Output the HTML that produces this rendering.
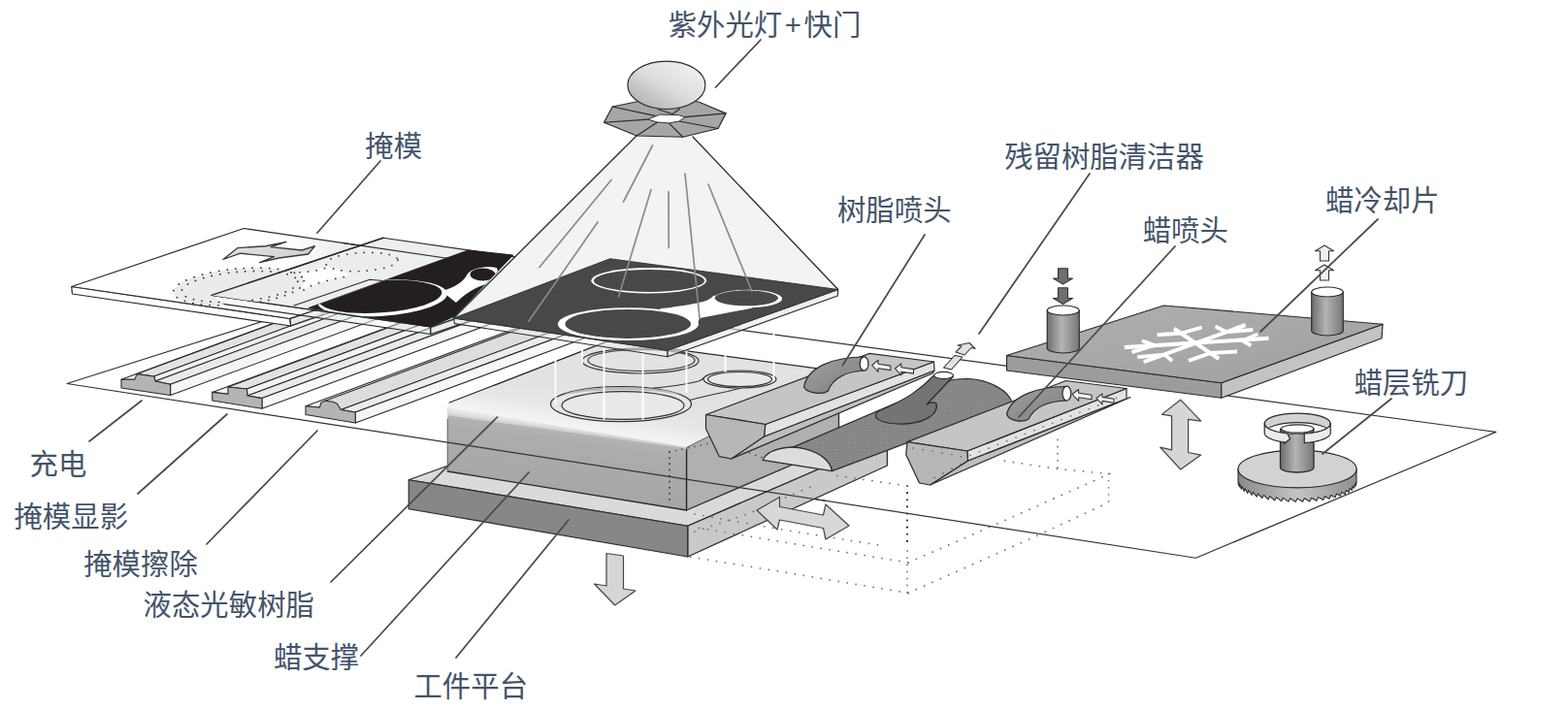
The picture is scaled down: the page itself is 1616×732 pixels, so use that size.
<!DOCTYPE html>
<html lang="zh-CN">
<head>
<meta charset="utf-8">
<title>光固化成型工艺示意图</title>
<style>
html,body{margin:0;padding:0;background:#fff;}
body{width:1616px;height:732px;overflow:hidden;position:relative;font-family:"Liberation Sans","Noto Sans CJK SC",sans-serif;}
svg{position:absolute;left:0;top:0;display:block;}
text{font-family:"Liberation Sans","Noto Sans CJK SC",sans-serif;font-size:29.4px;fill:#44546a;font-weight:400;}
</style>
</head>
<body>
<svg width="1616" height="732" viewBox="0 0 1616 732">
<defs>

<linearGradient id="gBulb" x1="0.85" y1="0.1" x2="0.1" y2="0.9">
  <stop offset="0" stop-color="#f0f0f0"/><stop offset="0.5" stop-color="#dcdcdc"/><stop offset="1" stop-color="#b0b0b2"/>
</linearGradient>
<linearGradient id="gCyl" x1="0" y1="0" x2="1" y2="0">
  <stop offset="0" stop-color="#6e6e70"/><stop offset="0.45" stop-color="#b4b4b6"/><stop offset="1" stop-color="#77777a"/>
</linearGradient>
<linearGradient id="gBlockFront" gradientUnits="userSpaceOnUse" x1="461" y1="428" x2="453" y2="486">
  <stop offset="0" stop-color="#b4b4b7"/><stop offset="0.15" stop-color="#adadb0"/><stop offset="1" stop-color="#a7a7aa"/>
</linearGradient>
<linearGradient id="gBlockEdge" gradientUnits="userSpaceOnUse" x1="461" y1="418" x2="459.5" y2="429">
  <stop offset="0" stop-color="#f0f0f0"/><stop offset="0.6" stop-color="#e2e2e2"/><stop offset="1" stop-color="#c6c6c8"/>
</linearGradient>
<linearGradient id="gBlockTop" gradientUnits="userSpaceOnUse" x1="461" y1="417" x2="467.5" y2="378">
  <stop offset="0" stop-color="#f3f3f3"/><stop offset="0.5" stop-color="#e6e6e6"/><stop offset="1" stop-color="#e2e2e2"/>
</linearGradient>
<linearGradient id="gPlateA" x1="0" y1="0" x2="1" y2="0">
  <stop offset="0" stop-color="#ffffff"/><stop offset="0.56" stop-color="#ffffff"/><stop offset="0.68" stop-color="#eeeeee"/><stop offset="1" stop-color="#ececec"/>
</linearGradient>
<linearGradient id="gArrow" x1="0" y1="0" x2="1" y2="0">
  <stop offset="0" stop-color="#e4e4e4"/><stop offset="1" stop-color="#cfcfcf"/>
</linearGradient>
<linearGradient id="gTube" x1="0" y1="0" x2="1" y2="1">
  <stop offset="0" stop-color="#a2a2a4"/><stop offset="1" stop-color="#7c7c7e"/>
</linearGradient>
<linearGradient id="gCoolTop" x1="0" y1="0" x2="1" y2="1">
  <stop offset="0" stop-color="#b0b0b3"/><stop offset="1" stop-color="#a0a0a3"/>
</linearGradient>
<linearGradient id="gGearSide" x1="0" y1="0" x2="1" y2="0">
  <stop offset="0" stop-color="#8a8a8c"/><stop offset="0.5" stop-color="#c4c4c6"/><stop offset="1" stop-color="#8f8f91"/>
</linearGradient>
<pattern id="pTex" width="3" height="3" patternUnits="userSpaceOnUse">
  <rect width="3" height="3" fill="#8a8a8c"/><rect width="1.5" height="1.5" fill="#7f7f81"/>
</pattern>

</defs>
<polygon points="69.00,395.50 398.00,291.00 1541.80,445.40 1232.50,575.25" fill="none" stroke="#333" stroke-width="1.20" stroke-linejoin="round" />
<polygon points="125.00,391.25 455.00,269.15 468.75,269.15 138.75,391.25" fill="#f4f4f4" stroke="#2a2a2a" stroke-width="1.08" stroke-linejoin="round" />
<polygon points="141.25,385.60 471.25,263.50 488.75,265.90 158.75,388.00" fill="#e2e2e2" stroke="#2a2a2a" stroke-width="1.08" stroke-linejoin="round" />
<polygon points="158.75,388.00 488.75,265.90 490.00,270.90 160.00,393.00" fill="#f2f2f2" stroke="#2a2a2a" stroke-width="1.08" stroke-linejoin="round" />
<polygon points="160.00,393.00 490.00,270.90 505.60,274.15 175.60,396.25" fill="#e9e9e9" stroke="#2a2a2a" stroke-width="1.08" stroke-linejoin="round" />
<polygon points="175.60,396.25 505.60,274.15 505.60,285.40 175.60,407.50" fill="#f6f6f6" stroke="#2a2a2a" stroke-width="1.08" stroke-linejoin="round" />
<polygon points="125.00,391.25 138.75,391.25 141.25,385.60 158.75,388.00 160.00,393.00 175.60,396.25 175.60,407.50 125.00,400.00" fill="#b4b4b6" stroke="#2a2a2a" stroke-width="1.08" stroke-linejoin="round" />
<polygon points="218.75,404.40 548.75,282.30 565.00,284.15 235.00,406.25" fill="#f4f4f4" stroke="#2a2a2a" stroke-width="1.08" stroke-linejoin="round" />
<polygon points="235.00,399.00 565.00,276.90 584.40,278.90 254.40,401.00" fill="#e2e2e2" stroke="#2a2a2a" stroke-width="1.08" stroke-linejoin="round" />
<polygon points="254.40,401.00 584.40,278.90 585.00,285.90 255.00,408.00" fill="#f2f2f2" stroke="#2a2a2a" stroke-width="1.08" stroke-linejoin="round" />
<polygon points="255.00,408.00 585.00,285.90 600.00,288.50 270.00,410.60" fill="#e9e9e9" stroke="#2a2a2a" stroke-width="1.08" stroke-linejoin="round" />
<polygon points="270.00,410.60 600.00,288.50 600.00,299.15 270.00,421.25" fill="#f6f6f6" stroke="#2a2a2a" stroke-width="1.08" stroke-linejoin="round" />
<polygon points="218.75,404.40 235.00,406.25 235.00,399.00 254.40,401.00 255.00,408.00 270.00,410.60 270.00,421.25 218.75,413.00" fill="#b4b4b6" stroke="#2a2a2a" stroke-width="1.08" stroke-linejoin="round" />
<polygon points="315.00,418.75 615.00,307.75 629.40,309.00 329.40,420.00" fill="#f4f4f4" stroke="#2a2a2a" stroke-width="1.08" stroke-linejoin="round" />
<polygon points="335.00,413.20 635.00,302.20 651.25,311.50 351.25,422.50" fill="#dddddd" stroke="#2a2a2a" stroke-width="1.08" stroke-linejoin="round" />
<polygon points="351.25,422.50 651.25,311.50 666.25,314.00 366.25,425.00" fill="#ececec" stroke="#2a2a2a" stroke-width="1.08" stroke-linejoin="round" />
<polygon points="366.25,425.00 666.25,314.00 666.25,325.00 366.25,436.00" fill="#f6f6f6" stroke="#2a2a2a" stroke-width="1.08" stroke-linejoin="round" />
<polygon points="315.00,418.75 329.40,420.00 331.00,415.00 335.00,413.20 343.00,414.20 347.50,416.25 351.25,422.50 366.25,425.00 366.25,436.00 315.00,427.50" fill="#b4b4b6" stroke="#2a2a2a" stroke-width="1.08" stroke-linejoin="round" />
<polygon points="421.25,494.75 600.00,430.00 914.40,453.00 708.75,542.25" fill="#dadada" stroke="#2a2a2a" stroke-width="1.20" stroke-linejoin="round" />
<polygon points="708.75,542.25 914.40,453.00 914.40,480.00 708.75,574.00" fill="#c9c9c9" stroke="#2a2a2a" stroke-width="1.20" stroke-linejoin="round" />
<polygon points="421.25,494.75 708.75,542.25 708.75,574.00 421.25,524.75" fill="#87878a" stroke="#2a2a2a" stroke-width="1.20" stroke-linejoin="round" />
<polygon points="707.50,461.00 864.50,382.80 864.50,458.50 707.50,526.00" fill="#b0b0b3" stroke="#2a2a2a" stroke-width="1.32" stroke-linejoin="round" />
<path d="M 461.25,420 L 707.5,461 L 707.5,526 L 461.25,486 Z" fill="url(#gBlockFront)" stroke="none" stroke-width="1.32" stroke-linejoin="round" stroke-linecap="round" />
<polygon points="461.25,419.00 707.50,461.00 707.50,462.50 461.25,428.50" fill="url(#gBlockEdge)" stroke="none" stroke-width="1.32" stroke-linejoin="round" />
<line x1="461.25" y1="486.00" x2="707.50" y2="526.00" stroke="#2a2a2a" stroke-width="1.32" stroke-linecap="round" />
<line x1="707.50" y1="464.00" x2="707.50" y2="526.00" stroke="#2a2a2a" stroke-width="1.32" stroke-linecap="round" />
<line x1="461.25" y1="432.00" x2="461.25" y2="486.00" stroke="#666" stroke-width="1.08" stroke-linecap="round" />
<path d="M 464.25,414.5 L 628,351.2 L 864.5,382.8 L 707.5,461 L 461.25,420.5 L 461.25,417 Q 461.25,415 464.25,414.5 Z" fill="url(#gBlockTop)" stroke="none" stroke-width="1.32" stroke-linejoin="round" stroke-linecap="round" />
<line x1="463.25" y1="415.00" x2="628.00" y2="351.20" stroke="#2a2a2a" stroke-width="1.32" stroke-linecap="round" />
<line x1="628.00" y1="351.20" x2="864.50" y2="382.80" stroke="#2a2a2a" stroke-width="1.32" stroke-linecap="round" />
<line x1="461.50" y1="456.14" x2="852.00" y2="516.47" stroke="#333" stroke-width="1.20" stroke-linecap="round" />
<ellipse cx="660.00" cy="372.00" rx="60.00" ry="13.00" fill="none" stroke="#333" stroke-width="1.20" />
<ellipse cx="661.00" cy="371.50" rx="55.00" ry="11.00" fill="none" stroke="#333" stroke-width="1.20" />
<path d="M 672,400.3 C 690,398.5 708,396 720,393 C 723,392 724,391 725.5,389.5" fill="none" stroke="#333" stroke-width="1.20" stroke-linejoin="round" stroke-linecap="round" />
<path d="M 711,412.5 C 722,409.5 738,406 750,403.5 C 756,402 760,401 764,400" fill="none" stroke="#333" stroke-width="1.20" stroke-linejoin="round" stroke-linecap="round" />
<ellipse cx="640.00" cy="416.60" rx="72.50" ry="18.00" fill="#e6e6e6" stroke="#333" stroke-width="1.20" />
<path d="M 578,409 C 590,396 690,396 704,409 C 690,400 592,400 578,409 Z" fill="#b9b9bb" stroke="none" stroke-width="1.32" stroke-linejoin="round" stroke-linecap="round" />
<ellipse cx="642.00" cy="418.00" rx="63.00" ry="14.40" fill="#e9e9e9" stroke="#333" stroke-width="1.20" />
<ellipse cx="762.50" cy="391.00" rx="37.50" ry="9.00" fill="#e6e6e6" stroke="#333" stroke-width="1.20" />
<ellipse cx="762.50" cy="391.00" rx="33.00" ry="7.50" fill="#e9e9e9" stroke="#333" stroke-width="1.20" />
<line x1="572.50" y1="362.00" x2="572.50" y2="416.00" stroke="#ffffff" stroke-width="1.80" stroke-linecap="round" />
<line x1="600.00" y1="360.00" x2="600.00" y2="374.00" stroke="#ffffff" stroke-width="1.80" stroke-linecap="round" />
<line x1="622.50" y1="360.00" x2="622.50" y2="432.00" stroke="#ffffff" stroke-width="1.80" stroke-linecap="round" />
<line x1="662.50" y1="362.00" x2="662.50" y2="432.00" stroke="#ffffff" stroke-width="1.80" stroke-linecap="round" />
<line x1="707.50" y1="360.00" x2="707.50" y2="404.00" stroke="#ffffff" stroke-width="1.80" stroke-linecap="round" />
<line x1="747.50" y1="352.00" x2="747.50" y2="383.00" stroke="#ffffff" stroke-width="1.80" stroke-linecap="round" />
<line x1="797.50" y1="340.00" x2="797.50" y2="392.00" stroke="#ffffff" stroke-width="1.80" stroke-linecap="round" />
<polyline points="690.00,466.00 690.00,520.00" fill="none" stroke="#333" stroke-width="1.80" stroke-linecap="round" stroke-dasharray="0.1 6" />
<polyline points="690.00,466.00 740.00,455.00 800.00,477.00" fill="none" stroke="#555" stroke-width="1.68" stroke-linecap="round" stroke-dasharray="0.1 6.5" />
<polygon points="73.75,295.50 298.75,328.50 299.75,336.00 74.45,303.00" fill="#ffffff" stroke="#2a2a2a" stroke-width="1.20" stroke-linejoin="round" />
<polygon points="298.75,328.50 476.00,268.50 476.00,276.00 299.75,336.00" fill="#ececec" stroke="#2a2a2a" stroke-width="1.20" stroke-linejoin="round" fill-opacity="0.5"/>
<polygon points="73.75,295.50 251.25,235.50 476.00,268.50 298.75,328.50" fill="url(#gPlateA)" stroke="#2a2a2a" stroke-width="1.20" stroke-linejoin="round" />
<polygon points="218.00,304.40 443.75,337.00 443.75,344.50 219.40,311.90" fill="#f4f4f4" stroke="#2a2a2a" stroke-width="1.20" stroke-linejoin="round" fill-opacity="0.5"/>
<polygon points="443.75,337.00 620.75,277.85 620.75,285.35 443.75,344.50" fill="#ececec" stroke="#2a2a2a" stroke-width="1.20" stroke-linejoin="round" fill-opacity="0.5"/>
<polygon points="218.00,304.40 395.00,245.25 620.75,277.85 443.75,337.00" fill="#eeeeee" stroke="#2a2a2a" stroke-width="1.20" stroke-linejoin="round" />
<line x1="298.75" y1="328.50" x2="476.00" y2="268.50" stroke="#2a2a2a" stroke-width="1.20" stroke-linecap="round" />
<line x1="352.39" y1="250.35" x2="476.00" y2="268.50" stroke="#2a2a2a" stroke-width="1.20" stroke-linecap="round" />
<clipPath id="cA"><polygon points="73.75,295.50 251.25,235.50 395.00,245.25 620.75,277.85 443.75,337.00 218.00,304.40 238.75,319.50 298.75,328.50"/></clipPath>
<g clip-path="url(#cA)">
<path d="M 292,283 C 310,282 330,278 342,272 L 360,284 C 340,288 322,292 312,300 Z" fill="#ffffff" stroke="none" stroke-width="1.32" stroke-linejoin="round" stroke-linecap="round" />
<ellipse cx="246.00" cy="295.50" rx="67.50" ry="18.50" fill="#ebebeb" stroke="#333" stroke-width="1.80" transform="rotate(-5 246.00 295.50)" stroke-dasharray="0.1 8.6" stroke-linecap="round"/>
<ellipse cx="247.00" cy="295.50" rx="60.00" ry="15.20" fill="none" stroke="#333" stroke-width="1.80" transform="rotate(-5 247.00 295.50)" stroke-dasharray="0.1 8.6" stroke-linecap="round"/>
<ellipse cx="373.00" cy="270.00" rx="37.00" ry="9.50" fill="#ececec" stroke="#3a3a3a" stroke-width="1.80" transform="rotate(-3 373.00 270.00)" stroke-dasharray="0.1 8.6" stroke-linecap="round"/>
<path d="M 300,281 C 318,281 332,279 340,274" fill="none" stroke="#3a3a3a" stroke-width="1.80" stroke-linejoin="round" stroke-linecap="round" stroke-dasharray="0.1 8.6" stroke-linecap="round"/>
<path d="M 313,299 C 322,292 342,288 358,285" fill="none" stroke="#3a3a3a" stroke-width="1.80" stroke-linejoin="round" stroke-linecap="round" stroke-dasharray="0.1 8.6" stroke-linecap="round"/>
</g>
<line x1="218.00" y1="304.40" x2="395.00" y2="245.25" stroke="#2a2a2a" stroke-width="1.44" stroke-linecap="round" />
<polyline points="303.00,315.00 381.00,288.30 395.00,289.50" fill="none" stroke="#2a2a2a" stroke-width="1.08" stroke-linejoin="round" stroke-linecap="round" />
<polygon points="318.00,317.50 482.50,258.00 528.75,263.00 468.75,326.00 443.75,337.00" fill="#231f20" stroke="#231f20" stroke-width="0.96" stroke-linejoin="round" />
<clipPath id="cK"><polygon points="318.00,317.50 482.50,258.00 528.75,263.00 468.75,326.00 443.75,337.00"/></clipPath>
<g clip-path="url(#cK)">
<ellipse cx="394.00" cy="307.30" rx="67.00" ry="18.50" fill="#ffffff" stroke="none" stroke-width="1.32" transform="rotate(-4 394.00 307.30)" />
<path d="M 455,300 C 470,296 478,290 482,282 C 488,276 500,274 512,276 L 516,290 C 500,292 486,296 470,312 Z" fill="#ffffff" stroke="none" stroke-width="1.32" stroke-linejoin="round" stroke-linecap="round" />
<ellipse cx="392.00" cy="305.80" rx="63.50" ry="16.60" fill="#231f20" stroke="none" stroke-width="1.32" transform="rotate(-4 392.00 305.80)" />
<ellipse cx="497.50" cy="283.00" rx="13.00" ry="6.50" fill="#231f20" stroke="none" stroke-width="1.32" />
</g>
<path d="M 230,267.5 L 245,255.6 L 273.75,253.75 L 295,249.4 L 279,254.6 L 311,258 L 324.4,253.75 L 317.5,262 L 287.5,266 L 267.5,270.6 L 282.5,264.6 L 247.5,261.2 Z" fill="url(#gArrow)" stroke="#3a3a3a" stroke-width="1.32" stroke-linejoin="round" stroke-linecap="round" />
<polygon points="656.00,140.00 714.00,141.00 863.75,298.50 628.75,266.75 467.50,328.00" fill="#f3f3f3" stroke="none" stroke-width="1.32" stroke-linejoin="round" />
<line x1="656.00" y1="140.00" x2="467.50" y2="328.00" stroke="#2a2a2a" stroke-width="1.32" stroke-linecap="round" />
<line x1="714.00" y1="141.00" x2="863.75" y2="298.50" stroke="#2a2a2a" stroke-width="1.32" stroke-linecap="round" />
<polygon points="467.50,328.00 688.00,361.20 688.00,367.80 468.50,333.60" fill="#f6f6f6" stroke="#2a2a2a" stroke-width="1.08" stroke-linejoin="round" fill-opacity="0.45"/>
<polygon points="688.00,361.20 863.75,298.50 863.25,305.10 688.00,367.80" fill="#e6e6e6" stroke="#2a2a2a" stroke-width="1.08" stroke-linejoin="round" fill-opacity="0.6"/>
<polygon points="467.50,328.00 628.75,266.75 863.75,298.50 688.00,361.20" fill="#48484a" stroke="#333" stroke-width="0.96" stroke-linejoin="round" />
<ellipse cx="668.75" cy="289.25" rx="59.40" ry="13.25" fill="#ffffff" stroke="none" stroke-width="1.32" />
<ellipse cx="669.00" cy="289.40" rx="57.00" ry="11.50" fill="#48484a" stroke="none" stroke-width="1.32" />
<ellipse cx="647.40" cy="334.10" rx="72.60" ry="16.90" fill="#ffffff" stroke="none" stroke-width="1.32" />
<path d="M 680,318.3 C 700,316 722,312.5 729,309.5 C 732,308 734,306.5 735.5,304.5 L 750,311 L 776,317.5 L 721,328 L 718,336 L 690,336 Z" fill="#ffffff" stroke="none" stroke-width="1.32" stroke-linejoin="round" stroke-linecap="round" />
<ellipse cx="647.20" cy="333.90" rx="64.80" ry="15.00" fill="#48484a" stroke="none" stroke-width="1.32" />
<ellipse cx="770.60" cy="308.00" rx="35.60" ry="9.30" fill="#ffffff" stroke="none" stroke-width="1.32" />
<ellipse cx="769.30" cy="307.30" rx="32.60" ry="8.00" fill="#48484a" stroke="none" stroke-width="1.32" />
<line x1="630.00" y1="185.50" x2="556.00" y2="275.50" stroke="#8a8a8a" stroke-width="1.68" stroke-linecap="round" />
<line x1="672.50" y1="150.00" x2="642.50" y2="208.00" stroke="#8a8a8a" stroke-width="1.68" stroke-linecap="round" />
<line x1="616.00" y1="229.00" x2="545.00" y2="331.00" stroke="#8a8a8a" stroke-width="1.68" stroke-linecap="round" />
<line x1="671.00" y1="195.50" x2="637.50" y2="306.00" stroke="#8a8a8a" stroke-width="1.68" stroke-linecap="round" />
<line x1="689.00" y1="197.50" x2="689.25" y2="255.50" stroke="#8a8a8a" stroke-width="1.68" stroke-linecap="round" />
<line x1="706.00" y1="179.00" x2="721.00" y2="328.00" stroke="#8a8a8a" stroke-width="1.68" stroke-linecap="round" />
<line x1="730.00" y1="190.00" x2="775.00" y2="300.50" stroke="#8a8a8a" stroke-width="1.68" stroke-linecap="round" />
<polygon points="631.25,110.00 622.50,126.25 656.25,140.00 703.75,141.25 740.00,132.50 748.12,116.88 720.00,105.00 680.00,100.00" fill="#a6a6a8" stroke="#2a2a2a" stroke-width="1.20" stroke-linejoin="round" />
<line x1="631.25" y1="110.00" x2="675.00" y2="119.38" stroke="#2a2a2a" stroke-width="1.20" stroke-linecap="round" />
<line x1="622.50" y1="126.25" x2="667.50" y2="123.12" stroke="#2a2a2a" stroke-width="1.20" stroke-linecap="round" />
<line x1="656.25" y1="140.00" x2="677.50" y2="126.00" stroke="#2a2a2a" stroke-width="1.20" stroke-linecap="round" />
<line x1="703.75" y1="141.25" x2="689.38" y2="126.88" stroke="#2a2a2a" stroke-width="1.20" stroke-linecap="round" />
<line x1="740.00" y1="132.50" x2="700.00" y2="125.00" stroke="#2a2a2a" stroke-width="1.20" stroke-linecap="round" />
<line x1="748.12" y1="116.88" x2="706.25" y2="120.62" stroke="#2a2a2a" stroke-width="1.20" stroke-linecap="round" />
<line x1="678.12" y1="112.75" x2="693.12" y2="117.50" stroke="#2a2a2a" stroke-width="1.20" stroke-linecap="round" />
<line x1="700.62" y1="112.25" x2="693.12" y2="117.50" stroke="#2a2a2a" stroke-width="1.20" stroke-linecap="round" />
<polygon points="667.50,123.12 680.00,118.12 698.75,118.50 706.25,120.62 700.00,125.00 689.38,126.88 677.50,126.00" fill="#ffffff" stroke="#2a2a2a" stroke-width="0.96" stroke-linejoin="round" />
<ellipse cx="686.90" cy="87.80" rx="40.00" ry="24.70" fill="url(#gBulb)" stroke="#2a2a2a" stroke-width="1.20" />
<polygon points="787.50,450.00 963.00,382.00 961.00,385.00 753.75,473.00" fill="#bebec0" stroke="#2a2a2a" stroke-width="1.20" stroke-linejoin="round" />
<polygon points="788.75,437.50 962.50,373.00 963.00,382.00 787.50,450.00" fill="#e2e2e2" stroke="#2a2a2a" stroke-width="1.20" stroke-linejoin="round" />
<polygon points="727.50,427.50 896.25,364.40 962.50,373.00 788.75,437.50" fill="#c5c5c7" stroke="#2a2a2a" stroke-width="1.20" stroke-linejoin="round" />
<polygon points="727.50,427.50 788.75,437.50 787.50,450.00 753.75,473.00 741.25,470.60 727.50,442.00" fill="#b7b7b9" stroke="#2a2a2a" stroke-width="1.20" stroke-linejoin="round" />
<path d="M 828.5,399 C 832,378 860,368 890.5,368 L 890.5,382 C 872,383 858,390 853.5,403 C 848,407 832,406 828.5,399 Z" fill="url(#gTube)" stroke="#2a2a2a" stroke-width="1.20" stroke-linejoin="round" stroke-linecap="round" />
<ellipse cx="890.60" cy="375.00" rx="4.40" ry="7.20" fill="#ffffff" stroke="#2a2a2a" stroke-width="1.20" />
<polygon points="898.75,376.50 905.02,371.44 905.02,375.19 917.75,377.10 917.75,381.60 905.02,379.69 905.02,383.44" fill="#f4f4f4" stroke="#333" stroke-width="1.08" stroke-linejoin="round" />
<polygon points="922.50,380.00 928.77,374.94 928.77,378.69 941.50,380.60 941.50,385.10 928.77,383.19 928.77,386.94" fill="#f4f4f4" stroke="#333" stroke-width="1.08" stroke-linejoin="round" />
<path d="M 786.25,474.4 C 790,464 812,458 830,463 C 846,467 856,476 857.5,485.6 L 1043,416 C 1041,403 1018,390.5 996,390.5 C 975,391 966,395 962,399 Z" fill="url(#pTex)" stroke="#2a2a2a" stroke-width="1.20" stroke-linejoin="round" stroke-linecap="round" />
<path d="M 786.25,474.4 C 790,464 812,458 830,463 C 846,467 856,476 857.5,485.6 Z" fill="#dcdcdc" stroke="#2a2a2a" stroke-width="1.20" stroke-linejoin="round" stroke-linecap="round" />
<path d="M 962.5,387 C 950,400 935,412 905,424 C 898,430 905,436 925,437 C 950,438 968,428 965,416 C 962,414 958,415 955,417 L 982.5,388 Z" fill="#747476" stroke="#2a2a2a" stroke-width="1.20" stroke-linejoin="round" stroke-linecap="round" />
<ellipse cx="972.50" cy="387.00" rx="10.00" ry="3.60" fill="#ffffff" stroke="#2a2a2a" stroke-width="1.20" />
<polygon points="972.50,379.00 984.00,366.50 992.00,368.00 980.50,381.00" fill="#e2e2e2" stroke="#333" stroke-width="1.08" stroke-linejoin="round" />
<polygon points="985.00,363.00 991.00,357.00 987.00,356.00 999.00,353.50 1005.00,359.50 1001.00,358.50 994.00,366.00" fill="#e2e2e2" stroke="#333" stroke-width="1.08" stroke-linejoin="round" />
<polygon points="997.50,475.00 1161.00,411.00 1165.00,409.50 958.50,500.00" fill="#bebec0" stroke="#2a2a2a" stroke-width="1.20" stroke-linejoin="round" />
<polygon points="996.90,465.00 1161.00,400.50 1161.00,411.00 997.50,475.00" fill="#e2e2e2" stroke="#2a2a2a" stroke-width="1.20" stroke-linejoin="round" />
<polygon points="935.00,455.60 1098.50,392.50 1161.00,400.50 996.90,465.00" fill="#c5c5c7" stroke="#2a2a2a" stroke-width="1.20" stroke-linejoin="round" />
<polygon points="935.00,455.60 996.90,465.00 997.50,475.00 958.50,500.00 947.50,498.00 933.75,468.75" fill="#b7b7b9" stroke="#2a2a2a" stroke-width="1.20" stroke-linejoin="round" />
<path d="M 1037.5,427 C 1042,408 1070,398.5 1099.4,398.5 L 1099.4,413 C 1080,413.5 1066,420 1060,432 C 1054,436 1040,434 1037.5,427 Z" fill="url(#gTube)" stroke="#2a2a2a" stroke-width="1.20" stroke-linejoin="round" stroke-linecap="round" />
<ellipse cx="1099.40" cy="405.60" rx="4.40" ry="7.40" fill="#ffffff" stroke="#2a2a2a" stroke-width="1.20" />
<polyline points="1000.00,469.50 1158.00,407.50" fill="none" stroke="#777" stroke-width="1.68" stroke-linecap="round" stroke-dasharray="0.1 10" />
<polyline points="941.00,462.00 990.00,470.00 993.00,477.00 958.00,495.00" fill="none" stroke="#666" stroke-width="1.68" stroke-linecap="round" stroke-dasharray="0.1 10" />
<polygon points="1105.00,406.50 1111.60,401.49 1111.60,405.24 1125.00,407.25 1125.00,411.75 1111.60,409.74 1111.60,413.49" fill="#f4f4f4" stroke="#333" stroke-width="1.08" stroke-linejoin="round" />
<polygon points="1130.00,410.50 1135.94,405.89 1135.94,409.39 1148.00,411.20 1148.00,415.20 1135.94,413.39 1135.94,416.89" fill="#f4f4f4" stroke="#333" stroke-width="1.08" stroke-linejoin="round" />
<polygon points="1037.50,366.50 1258.75,394.75 1258.75,410.25 1037.50,382.00" fill="#9c9c9f" stroke="#2a2a2a" stroke-width="1.20" stroke-linejoin="round" />
<polygon points="1258.75,394.75 1425.00,334.25 1424.00,348.75 1258.75,410.25" fill="#c3c3c5" stroke="#2a2a2a" stroke-width="1.20" stroke-linejoin="round" />
<polygon points="1037.50,366.50 1199.50,315.00 1425.00,334.25 1258.75,394.75" fill="url(#gCoolTop)" stroke="#2a2a2a" stroke-width="1.20" stroke-linejoin="round" />
<line x1="1158.75" y1="358.12" x2="1307.50" y2="348.75" stroke="#ffffff" stroke-width="4.02" stroke-linecap="butt" />
<line x1="1210.00" y1="338.75" x2="1256.25" y2="370.00" stroke="#ffffff" stroke-width="4.02" stroke-linecap="butt" />
<line x1="1178.75" y1="373.12" x2="1283.75" y2="335.00" stroke="#ffffff" stroke-width="4.02" stroke-linecap="butt" />
<line x1="1189.38" y1="355.88" x2="1176.88" y2="351.25" stroke="#ffffff" stroke-width="3.78" stroke-linecap="butt" />
<line x1="1189.38" y1="355.88" x2="1166.50" y2="363.12" stroke="#ffffff" stroke-width="3.78" stroke-linecap="butt" />
<line x1="1280.62" y1="351.25" x2="1296.25" y2="344.38" stroke="#ffffff" stroke-width="3.78" stroke-linecap="butt" />
<line x1="1280.62" y1="351.25" x2="1289.38" y2="356.25" stroke="#ffffff" stroke-width="3.78" stroke-linecap="butt" />
<line x1="1217.50" y1="343.50" x2="1192.50" y2="345.25" stroke="#ffffff" stroke-width="3.78" stroke-linecap="butt" />
<line x1="1217.50" y1="343.50" x2="1238.75" y2="337.50" stroke="#ffffff" stroke-width="3.78" stroke-linecap="butt" />
<line x1="1247.50" y1="364.00" x2="1275.00" y2="362.50" stroke="#ffffff" stroke-width="3.78" stroke-linecap="butt" />
<line x1="1247.50" y1="364.00" x2="1225.00" y2="371.88" stroke="#ffffff" stroke-width="3.78" stroke-linecap="butt" />
<line x1="1200.00" y1="365.62" x2="1172.25" y2="368.12" stroke="#ffffff" stroke-width="3.78" stroke-linecap="butt" />
<line x1="1200.00" y1="365.62" x2="1208.12" y2="371.88" stroke="#ffffff" stroke-width="3.78" stroke-linecap="butt" />
<line x1="1263.75" y1="342.25" x2="1252.50" y2="336.50" stroke="#ffffff" stroke-width="3.78" stroke-linecap="butt" />
<line x1="1263.75" y1="342.25" x2="1291.25" y2="340.00" stroke="#ffffff" stroke-width="3.78" stroke-linecap="butt" />
<path d="M 1079.25,320 L 1079.25,359 A 16.5 5 0 0 0 1112.25,359 L 1112.25,320 Z" fill="url(#gCyl)" stroke="#2a2a2a" stroke-width="1.20" stroke-linejoin="round" stroke-linecap="round" />
<ellipse cx="1095.75" cy="320.00" rx="16.50" ry="5.00" fill="#ffffff" stroke="#2a2a2a" stroke-width="1.20" />
<path d="M 1351.75,301 L 1351.75,341 A 16.25 5 0 0 0 1384.25,341 L 1384.25,301 Z" fill="url(#gCyl)" stroke="#2a2a2a" stroke-width="1.20" stroke-linejoin="round" stroke-linecap="round" />
<ellipse cx="1368.00" cy="301.00" rx="16.25" ry="5.00" fill="#ffffff" stroke="#2a2a2a" stroke-width="1.20" />
<polygon points="1090.50,276.75 1100.50,276.75 1100.50,287.15 1105.50,287.15 1095.50,293.00 1085.50,287.15 1090.50,287.15" fill="#6e6e70" stroke="#333" stroke-width="1.08" stroke-linejoin="round" />
<polygon points="1090.50,296.75 1100.50,296.75 1100.50,307.47 1105.50,307.47 1095.50,313.50 1085.50,307.47 1090.50,307.47" fill="#6e6e70" stroke="#333" stroke-width="1.08" stroke-linejoin="round" />
<polygon points="1360.50,269.00 1369.50,269.00 1369.50,258.76 1374.50,258.76 1365.00,253.00 1355.50,258.76 1360.50,258.76" fill="#f0f0f0" stroke="#333" stroke-width="1.08" stroke-linejoin="round" />
<polygon points="1360.50,289.00 1369.50,289.00 1369.50,278.76 1374.50,278.76 1365.00,273.00 1355.50,278.76 1360.50,278.76" fill="#f0f0f0" stroke="#333" stroke-width="1.08" stroke-linejoin="round" />
<polygon points="1216.70,412.20 1237.70,434.10 1224.60,432.40 1224.60,466.50 1237.70,469.10 1216.70,484.00 1195.70,461.20 1207.60,463.80 1207.60,428.90 1197.50,427.10" fill="#d6d6d6" stroke="#444" stroke-width="1.20" stroke-linejoin="round" />
<polygon points="1276.00,483.50 1276.00,494.50 1276.25,499.76 1276.44,496.84 1277.36,502.07 1277.77,499.14 1279.34,504.33 1279.96,501.38 1282.16,506.49 1282.99,503.52 1285.77,508.53 1286.80,505.52 1290.14,510.42 1291.34,507.36 1295.19,512.13 1296.55,509.02 1300.85,513.63 1302.35,510.47 1307.03,514.90 1308.65,511.68 1313.66,515.92 1315.37,512.64 1320.62,516.69 1322.40,513.34 1327.82,517.18 1329.65,513.76 1335.16,517.39 1337.00,513.90 1342.52,517.32 1344.35,513.76 1349.80,516.97 1351.60,513.34 1356.90,516.34 1358.63,512.64 1363.70,515.44 1365.35,511.68 1370.12,514.29 1371.65,510.47 1376.05,512.90 1377.45,509.02 1381.42,511.30 1382.66,507.36 1386.13,509.50 1387.20,505.52 1390.13,507.53 1391.01,503.52 1393.36,505.42 1394.04,501.38 1395.76,503.21 1396.23,499.14 1397.31,500.92 1397.56,496.84 1397.97,498.59 1398.00,494.50 1398.00,483.50" fill="url(#gGearSide)" stroke="#2a2a2a" stroke-width="1.08" stroke-linejoin="round" />
<ellipse cx="1337.00" cy="483.50" rx="61.00" ry="19.40" fill="#d2d2d4" stroke="#2a2a2a" stroke-width="1.20" />
<clipPath id="cR1"><ellipse cx="1337.20" cy="436.70" rx="34.00" ry="10.60"/></clipPath>
<path d="M 1319.5,442 L 1319.5,482 A 17.2 5 0 0 0 1354,482 L 1354,442 Z" fill="url(#gCyl)" stroke="#2a2a2a" stroke-width="1.32" stroke-linejoin="round" stroke-linecap="round" />
<ellipse cx="1337.20" cy="436.70" rx="34.00" ry="10.60" fill="#d2d2d4" stroke="#2a2a2a" stroke-width="1.32" />
<g clip-path="url(#cR1)">
<ellipse cx="1337.20" cy="446.20" rx="33.50" ry="10.60" fill="#ffffff" stroke="#2a2a2a" stroke-width="1.20" />
<path d="M 1319.5,442 L 1319.5,460 L 1354,460 L 1354,442 Z" fill="url(#gCyl)" stroke="#2a2a2a" stroke-width="1.20" stroke-linejoin="round" stroke-linecap="round" />
<ellipse cx="1337.20" cy="442.00" rx="16.60" ry="4.20" fill="#ffffff" stroke="#2a2a2a" stroke-width="1.20" />
</g>
<polygon points="1371.20,436.70 1371.15,437.30 1370.98,437.90 1370.71,438.50 1370.33,439.08 1369.84,439.67 1369.25,440.24 1368.55,440.80 1367.76,441.35 1366.86,441.88 1365.88,442.40 1364.79,442.89 1363.62,443.37 1362.37,443.83 1361.03,444.26 1359.62,444.67 1358.13,445.05 1356.58,445.41 1354.96,445.74 1353.29,446.04 1351.57,446.31 1349.80,446.55 1347.99,446.75 1346.14,446.93 1344.27,447.07 1344.27,456.57 1346.14,456.43 1347.99,456.25 1349.80,456.05 1351.57,455.81 1353.29,455.54 1354.96,455.24 1356.58,454.91 1358.13,454.55 1359.62,454.17 1361.03,453.76 1362.37,453.33 1363.62,452.87 1364.79,452.39 1365.88,451.90 1366.86,451.38 1367.76,450.85 1368.55,450.30 1369.25,449.74 1369.84,449.17 1370.33,448.58 1370.71,448.00 1370.98,447.40 1371.15,446.80 1371.20,446.20" fill="#ececec" stroke="#2a2a2a" stroke-width="1.20" stroke-linejoin="round" />
<polygon points="1303.20,436.70 1303.25,437.25 1303.39,437.81 1303.62,438.36 1303.94,438.90 1304.36,439.44 1304.86,439.98 1305.46,440.50 1306.14,441.01 1306.91,441.51 1307.76,442.00 1308.69,442.47 1309.69,442.93 1310.78,443.37 1311.93,443.79 1313.16,444.20 1314.45,444.58 1315.80,444.94 1317.22,445.28 1318.68,445.59 1320.20,445.88 1321.76,446.14 1323.37,446.38 1325.02,446.60 1326.69,446.78 1329.50,452.50 1323.50,457.50 1324.46,456.03 1322.92,455.82 1321.41,455.59 1319.94,455.33 1318.52,455.06 1317.14,454.76 1315.80,454.44 1314.52,454.10 1313.30,453.74 1312.13,453.36 1311.03,452.97 1309.99,452.55 1309.01,452.13 1308.11,451.69 1307.27,451.23 1306.51,450.76 1305.83,450.28 1305.22,449.80 1304.69,449.30 1304.23,448.79 1303.86,448.28 1303.57,447.77 1303.37,447.25 1303.24,446.72 1303.20,446.20" fill="#ececec" stroke="#2a2a2a" stroke-width="1.20" stroke-linejoin="round" />
<polyline points="935.00,501.00 935.00,562.00" fill="none" stroke="#222" stroke-width="2.04" stroke-linecap="round" stroke-dasharray="0.1 7" />
<polyline points="935.00,568.00 935.00,612.00" fill="none" stroke="#777" stroke-width="1.80" stroke-linecap="round" stroke-dasharray="0.1 7" />
<polyline points="936.00,580.00 800.00,557.75 712.00,543.00" fill="none" stroke="#777" stroke-width="1.80" stroke-linecap="round" stroke-dasharray="0.1 9" />
<polyline points="936.00,611.50 800.00,588.50 710.00,574.00" fill="none" stroke="#777" stroke-width="1.80" stroke-linecap="round" stroke-dasharray="0.1 9" />
<polyline points="936.00,580.00 1005.00,550.00 1143.75,488.50" fill="none" stroke="#777" stroke-width="1.80" stroke-linecap="round" stroke-dasharray="0.1 9" />
<polyline points="936.00,611.50 1065.00,554.00 1142.50,518.00" fill="none" stroke="#777" stroke-width="1.80" stroke-linecap="round" stroke-dasharray="0.1 9" />
<polyline points="1142.50,488.50 1142.50,521.00" fill="none" stroke="#888" stroke-width="1.80" stroke-linecap="round" stroke-dasharray="0.1 7" />
<polyline points="1090.00,453.50 1090.00,483.50" fill="none" stroke="#777" stroke-width="1.80" stroke-linecap="round" stroke-dasharray="0.1 7" />
<polyline points="1143.75,488.50 1090.00,483.50 1032.50,474.75" fill="none" stroke="#777" stroke-width="1.80" stroke-linecap="round" stroke-dasharray="0.1 9" />
<polyline points="935.00,501.00 860.00,490.00" fill="none" stroke="#777" stroke-width="1.80" stroke-linecap="round" stroke-dasharray="0.1 9" />
<polyline points="716.00,530.00 800.00,545.00 905.00,562.00" fill="none" stroke="#777" stroke-width="1.80" stroke-linecap="round" stroke-dasharray="0.1 9" />
<polyline points="716.00,548.00 770.00,530.00 840.00,500.00" fill="none" stroke="#777" stroke-width="1.80" stroke-linecap="round" stroke-dasharray="0.1 9" />
<polygon points="780.00,526.00 803.50,512.50 803.50,522.50 848.50,531.00 851.00,520.00 875.00,542.00 851.00,556.00 848.50,544.50 803.50,536.00 801.00,546.00" fill="#d8d8d8" stroke="#444" stroke-width="1.20" stroke-linejoin="round" />
<polygon points="625.00,570.50 642.50,573.00 642.50,607.00 655.00,609.00 633.75,624.00 612.50,602.00 625.00,604.00" fill="#d6d6d6" stroke="#444" stroke-width="1.20" stroke-linejoin="round" />
<line x1="784.00" y1="41.00" x2="737.50" y2="90.00" stroke="#4a4a4a" stroke-width="1.74" stroke-linecap="round" />
<line x1="392.00" y1="166.00" x2="327.00" y2="240.00" stroke="#4a4a4a" stroke-width="1.74" stroke-linecap="round" />
<line x1="1123.00" y1="179.00" x2="1009.00" y2="344.00" stroke="#4a4a4a" stroke-width="1.74" stroke-linecap="round" />
<line x1="953.00" y1="242.00" x2="868.50" y2="376.50" stroke="#4a4a4a" stroke-width="1.74" stroke-linecap="round" />
<line x1="1211.00" y1="254.00" x2="1050.00" y2="430.00" stroke="#4a4a4a" stroke-width="1.74" stroke-linecap="round" />
<line x1="1420.00" y1="226.00" x2="1299.00" y2="342.00" stroke="#4a4a4a" stroke-width="1.74" stroke-linecap="round" />
<line x1="1434.00" y1="411.00" x2="1363.00" y2="468.00" stroke="#4a4a4a" stroke-width="1.74" stroke-linecap="round" />
<line x1="146.00" y1="413.00" x2="92.00" y2="455.00" stroke="#4a4a4a" stroke-width="1.74" stroke-linecap="round" />
<line x1="234.00" y1="427.00" x2="142.00" y2="509.00" stroke="#4a4a4a" stroke-width="1.74" stroke-linecap="round" />
<line x1="327.00" y1="444.00" x2="213.00" y2="561.00" stroke="#4a4a4a" stroke-width="1.74" stroke-linecap="round" />
<line x1="512.50" y1="430.00" x2="341.00" y2="600.00" stroke="#4a4a4a" stroke-width="1.74" stroke-linecap="round" />
<line x1="545.00" y1="487.00" x2="372.00" y2="676.00" stroke="#4a4a4a" stroke-width="1.74" stroke-linecap="round" />
<line x1="586.00" y1="536.00" x2="470.00" y2="678.00" stroke="#4a4a4a" stroke-width="1.74" stroke-linecap="round" />
<text x="788" y="36.4" text-anchor="middle">紫外光灯<tspan dx="2.6">+</tspan><tspan dx="2.6">快门</tspan></text>
<text x="405.75" y="161.4" text-anchor="middle">掩模</text>
<text x="1138" y="172.4" text-anchor="middle">残留树脂清洁器</text>
<text x="921.75" y="226.7" text-anchor="middle">树脂喷头</text>
<text x="1221.75" y="247.7" text-anchor="middle">蜡喷头</text>
<text x="1424.75" y="217.4" text-anchor="middle">蜡冷却片</text>
<text x="1454.25" y="404.7" text-anchor="middle">蜡层铣刀</text>
<text x="60" y="489.4" text-anchor="middle">充电</text>
<text x="73.25" y="542.7" text-anchor="middle">掩模显影</text>
<text x="145" y="591.7" text-anchor="middle">掩模擦除</text>
<text x="235.75" y="633.7" text-anchor="middle">液态光敏树脂</text>
<text x="326" y="688.4" text-anchor="middle">蜡支撑</text>
<text x="485.25" y="718.4" text-anchor="middle">工件平台</text>
</svg>
</body>
</html>
